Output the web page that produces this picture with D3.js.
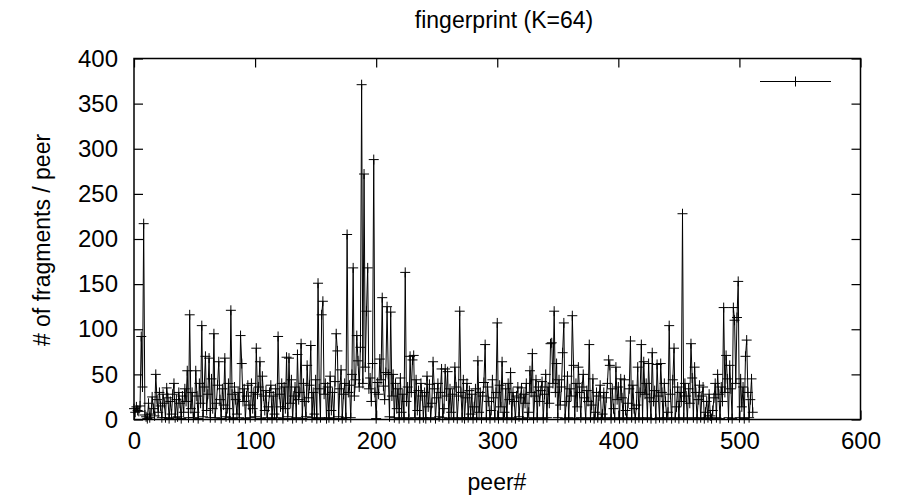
<!DOCTYPE html>
<html>
<head>
<meta charset="utf-8">
<script src="https://cdnjs.cloudflare.com/ajax/libs/d3/7.8.5/d3.min.js"></script>
<style>
  body { margin: 0; background: #fff; }
  text { font-family: "Liberation Sans", Arial, sans-serif; fill: #000; }
</style>
</head>
<body>
<div id="chart"></div>
<script>
// fragments per peer, peer# = array index
var fragments = [
  12, 8, 14, 10, 9, 15, 92, 36, 217, 5, 3, 1, 18, 2, 6, 25,
  12, 4, 50, 22, 8, 30, 15, 2, 28, 18, 2, 35, 24, 1, 20, 6,
  28, 40, 2, 22, 3, 30, 18, 1, 26, 8, 34, 20, 54, 2, 116, 12,
  30, 2, 8, 54, 26, 1, 40, 18, 104, 3, 36, 70, 10, 28, 68, 2,
  45, 12, 95, 2, 18, 38, 64, 22, 1, 34, 16, 68, 3, 12, 40, 2,
  121, 28, 1, 36, 22, 6, 30, 2, 93, 62, 20, 34, 1, 26, 38, 16,
  2, 40, 12, 30, 3, 79, 28, 36, 64, 1, 48, 26, 10, 32, 2, 14,
  30, 38, 1, 26, 6, 34, 2, 92, 28, 14, 40, 1, 36, 12, 69, 3,
  68, 18, 44, 1, 26, 36, 2, 72, 22, 30, 84, 1, 40, 20, 3, 60,
  24, 38, 82, 2, 30, 6, 44, 1, 151, 34, 2, 116, 131, 28, 40, 1,
  36, 2, 48, 10, 30, 1, 42, 95, 76, 3, 34, 55, 1, 28, 40, 2,
  205, 30, 38, 2, 50, 168, 26, 44, 93, 65, 36, 80, 371, 40, 272, 58,
  120, 168, 34, 46, 20, 62, 288, 30, 1, 41, 28, 67, 44, 135, 37, 22,
  52, 125, 50, 3, 119, 26, 50, 2, 40, 12, 34, 1, 46, 8, 28, 2,
  163, 20, 36, 1, 70, 30, 66, 71, 2, 44, 10, 32, 1, 40, 26, 2,
  30, 1, 48, 14, 39, 2, 18, 64, 34, 1, 24, 40, 3, 30, 56, 2,
  12, 56, 26, 53, 1, 34, 8, 28, 2, 58, 36, 1, 26, 120, 30, 2,
  44, 1, 24, 40, 2, 32, 6, 28, 1, 14, 34, 2, 65, 8, 30, 1,
  26, 41, 83, 2, 36, 20, 1, 10, 44, 24, 2, 30, 107, 1, 38, 14,
  64, 2, 8, 34, 1, 40, 22, 52, 2, 30, 20, 1, 26, 36, 3, 24,
  35, 1, 28, 18, 40, 2, 8, 54, 30, 73, 1, 26, 44, 2, 36, 20,
  32, 42, 1, 28, 50, 2, 36, 18, 84, 85, 40, 120, 30, 62, 2, 44,
  16, 36, 74, 107, 1, 20, 48, 2, 34, 26, 115, 60, 1, 40, 14, 58,
  30, 2, 36, 50, 24, 1, 32, 20, 83, 2, 16, 45, 1, 8, 30, 2,
  26, 38, 1, 6, 30, 2, 24, 40, 66, 60, 1, 34, 12, 2, 58, 22,
  36, 1, 45, 24, 2, 44, 10, 1, 18, 34, 87, 2, 38, 12, 1, 16,
  58, 2, 30, 83, 1, 64, 28, 40, 2, 62, 24, 1, 74, 20, 32, 1,
  61, 26, 2, 62, 30, 1, 40, 20, 2, 8, 104, 28, 1, 44, 79, 2,
  14, 36, 1, 30, 20, 228, 2, 40, 26, 1, 34, 18, 84, 46, 2, 58,
  30, 1, 22, 38, 2, 26, 36, 1, 8, 20, 2, 28, 4, 1, 10, 24,
  40, 2, 50, 28, 1, 36, 20, 124, 30, 71, 45, 2, 60, 34, 1, 124,
  110, 40, 113, 153, 2, 45, 14, 36, 1, 70, 88, 30, 2, 22, 45, 8
];
var xTicks = [0, 100, 200, 300, 400, 500, 600];
var yTicks = [0, 50, 100, 150, 200, 250, 300, 350, 400];
var title = "fingerprint (K=64)";
var xTitle = "peer#";
var yTitle = "# of fragments / peer";

var width = 897;
var height = 498;
// plot box edges
var boxL = 134, boxR = 860.5, boxT = 58.5, boxB = 419.5;
var tickLen = 9;
var cross = 5;

var svg = d3
  .select("#chart")
  .append("svg")
  .attr("width", width)
  .attr("height", height);

var xScale = d3.scaleLinear().domain([0, 600]).range([boxL, boxR]);
var yScale = d3.scaleLinear().domain([0, 400]).range([boxB, boxT]);

var data = fragments.map(function(v, i) {
  return { peer: i, n: v };
});

// gnuplot style axes: ticks inside, mirrored
var xAxis = d3.axisBottom(xScale).tickValues(xTicks).tickSizeInner(-tickLen).tickSizeOuter(0).tickPadding(12);
var yAxis = d3.axisLeft(yScale).tickValues(yTicks).tickSizeInner(-tickLen).tickSizeOuter(0).tickPadding(16);

svg.append("g")
  .attr("class", "xAxis")
  .attr("transform", "translate(0," + boxB + ")")
  .call(xAxis);
svg.append("g")
  .attr("class", "yAxis")
  .attr("transform", "translate(" + boxL + ",0)")
  .call(yAxis);
svg.append("g")
  .attr("transform", "translate(0," + boxT + ")")
  .call(d3.axisTop(xScale).tickValues(xTicks).tickSizeInner(-tickLen).tickSizeOuter(0).tickFormat(""));
svg.append("g")
  .attr("transform", "translate(" + boxR + ",0)")
  .call(d3.axisRight(yScale).tickValues(yTicks).tickSizeInner(-tickLen).tickSizeOuter(0).tickFormat(""));

svg.selectAll(".domain").remove();
svg.selectAll(".tick line").attr("stroke", "#000").attr("stroke-width", 1.2);
svg.selectAll(".tick text").style("font-size", "24px").style("font-family", "Liberation Sans, Arial, sans-serif");

// the data line
var line = d3.line()
  .x(function(d) { return xScale(d.peer); })
  .y(function(d) { return yScale(d.n); });

svg.append("path")
  .datum(data)
  .attr("d", line)
  .attr("fill", "none")
  .attr("stroke", "#000")
  .attr("stroke-width", 1);

// plus markers
var plus = "M" + (-cross) + ",0H" + cross + "M0," + (-cross) + "V" + cross;
svg.selectAll(".pt")
  .data(data)
  .enter()
  .append("path")
  .attr("class", "pt")
  .attr("transform", function(d) {
    return "translate(" + xScale(d.peer) + "," + yScale(d.n) + ")";
  })
  .attr("d", plus)
  .attr("fill", "none")
  .attr("stroke", "#000")
  .attr("stroke-width", 1);

// frame
svg.append("rect")
  .attr("x", boxL)
  .attr("y", boxT)
  .attr("width", boxR - boxL)
  .attr("height", boxB - boxT)
  .attr("fill", "none")
  .attr("stroke", "#000")
  .attr("stroke-width", 1.5);

// key sample (empty title)
var keyY = 81.5;
svg.append("line")
  .attr("x1", 760).attr("x2", 831)
  .attr("y1", keyY).attr("y2", keyY)
  .attr("stroke", "#000").attr("stroke-width", 1);
svg.append("path")
  .attr("transform", "translate(795.5," + keyY + ")")
  .attr("d", plus)
  .attr("fill", "none").attr("stroke", "#000").attr("stroke-width", 1);

// titles
svg.append("text")
  .attr("x", 504)
  .attr("y", 28)
  .attr("text-anchor", "middle")
  .style("font-size", "23px")
  .text(title);
svg.append("text")
  .attr("x", 497)
  .attr("y", 490)
  .attr("text-anchor", "middle")
  .style("font-size", "23px")
  .text(xTitle);
svg.append("text")
  .attr("transform", "translate(50,240)rotate(-90)")
  .attr("text-anchor", "middle")
  .style("font-size", "23px")
  .text(yTitle);
</script>
</body>
</html>
